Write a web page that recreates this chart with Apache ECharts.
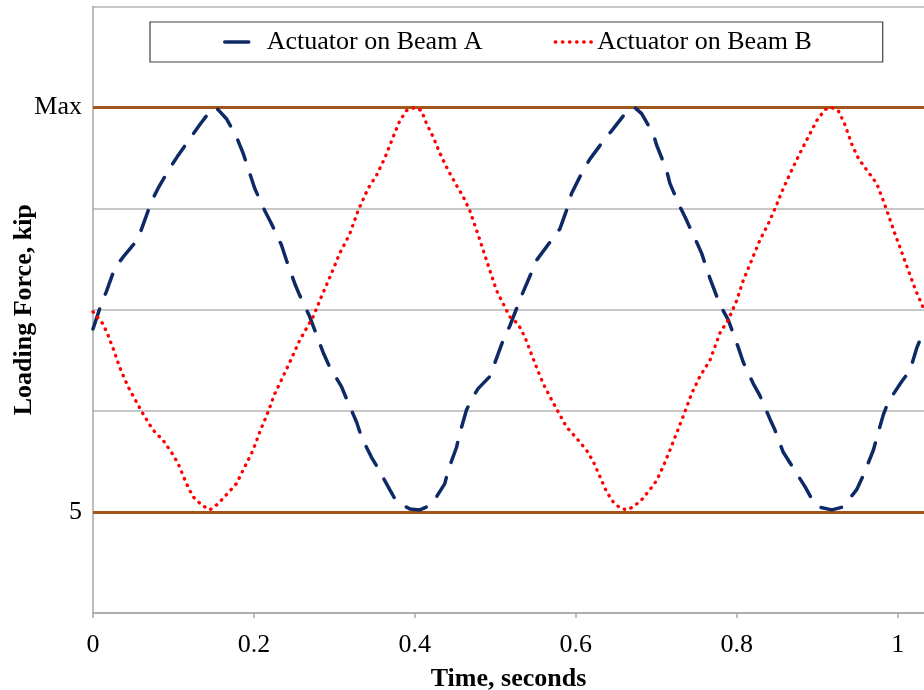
<!DOCTYPE html>
<html>
<head>
<meta charset="utf-8">
<script src="https://cdn.jsdelivr.net/npm/echarts@6/dist/echarts.min.js"></script>
<style>
    html, body { margin: 0; padding: 0; background: #ffffff; }
    #chart { width: 924px; height: 690px; }
</style>
</head>
<body>
<div id="chart"></div>
<script>
    // time, seconds / loading force (0..6 scale, 1 = "5", 5 = "Max")
    var timeA = [0, 0.0104, 0.0166, 0.0270, 0.0373, 0.0559, 0.0622, 0.0726, 0.0808, 0.0954, 0.1044, 0.1202, 0.1326, 0.1451, 0.151, 0.1554,
        0.1658, 0.1783, 0.1865, 0.1948, 0.2010, 0.2135, 0.2218, 0.2342, 0.2404, 0.2507, 0.2570, 0.2694, 0.2859, 0.2943, 0.3088, 0.3150,
        0.3275, 0.3337, 0.3461, 0.3543, 0.3688, 0.3772, 0.3937, 0.4061, 0.4207, 0.4372, 0.4413, 0.4518, 0.4559, 0.4642, 0.4724, 0.4786,
        0.4932, 0.4973, 0.5097, 0.5180, 0.5326, 0.5450, 0.5512, 0.5699, 0.5802, 0.5905, 0.5947, 0.6091, 0.6175, 0.6361, 0.6464, 0.6651,
        0.6734, 0.6818, 0.6962, 0.7004, 0.7128, 0.7169, 0.7294, 0.7356, 0.7501, 0.7563, 0.7667, 0.7791, 0.7894, 0.8018, 0.8081, 0.8205,
        0.8288, 0.8412, 0.8475, 0.8578, 0.8682, 0.8848, 0.8931, 0.9013, 0.9180, 0.9324, 0.9490, 0.9572, 0.9697, 0.9739, 0.9821, 0.9883,
        1.0050, 1.0153, 1.0236, 1.0327];
    var forceA = [2.81, 3.06, 3.18, 3.41, 3.52, 3.70, 3.84, 4.07, 4.20, 4.40, 4.51, 4.69, 4.83, 4.96, 5.0, 4.98,
        4.89, 4.71, 4.55, 4.35, 4.20, 3.98, 3.85, 3.64, 3.49, 3.26, 3.14, 2.93, 2.58, 2.43, 2.24, 2.12,
        1.89, 1.74, 1.54, 1.43, 1.22, 1.10, 1.03, 1.02, 1.07, 1.28, 1.41, 1.64, 1.78, 2.01, 2.14, 2.22,
        2.34, 2.43, 2.70, 2.84, 3.14, 3.37, 3.49, 3.69, 3.80, 4.03, 4.15, 4.38, 4.49, 4.69, 4.79, 4.98,
        5.0, 4.94, 4.74, 4.63, 4.38, 4.25, 4.02, 3.92, 3.67, 3.56, 3.31, 3.05, 2.90, 2.63, 2.48, 2.27,
        2.15, 1.92, 1.81, 1.59, 1.46, 1.25, 1.13, 1.05, 1.02, 1.05, 1.22, 1.36, 1.61, 1.73, 1.96, 2.09,
        2.29, 2.40, 2.62, 2.80];

    var timeB = [0, 0.0124, 0.0186, 0.0249, 0.0332, 0.0435, 0.0559, 0.0622, 0.0746, 0.0870, 0.0975, 0.1057, 0.1161, 0.1243, 0.1348, 0.1451,
        0.1554, 0.1658, 0.1783, 0.1907, 0.1989, 0.2072, 0.2176, 0.2259, 0.2362, 0.2445, 0.2570, 0.2735, 0.2839, 0.2964, 0.3067, 0.3191,
        0.3294, 0.3419, 0.3523, 0.3626, 0.3730, 0.3813, 0.3896, 0.4000, 0.4083, 0.4145, 0.4227, 0.4310, 0.4413, 0.4518, 0.4600, 0.4683,
        0.4766, 0.4848, 0.4932, 0.5015, 0.5097, 0.5180, 0.5283, 0.5367, 0.5429, 0.5512, 0.5594, 0.5699, 0.5802, 0.5885, 0.6009, 0.6134,
        0.6216, 0.6299, 0.6382, 0.6464, 0.6548, 0.6631, 0.6713, 0.6818, 0.6921, 0.7004, 0.7086, 0.7169, 0.7253, 0.7356, 0.7439, 0.7542,
        0.7667, 0.7791, 0.7894, 0.7999, 0.8081, 0.8185, 0.8288, 0.8391, 0.8475, 0.8578, 0.8682, 0.8786, 0.8889, 0.8993, 0.9096, 0.9180,
        0.9262, 0.9345, 0.9428, 0.9510, 0.9635, 0.9739, 0.9821, 0.9883, 0.9966, 1.0050, 1.0132, 1.0215, 1.0327];
    var forceB = [2.98, 2.86, 2.75, 2.62, 2.43, 2.24, 2.06, 1.97, 1.81, 1.71, 1.59, 1.48, 1.28, 1.15, 1.07, 1.02,
        1.08, 1.17, 1.28, 1.48, 1.61, 1.79, 1.99, 2.17, 2.34, 2.48, 2.70, 2.93, 3.13, 3.36, 3.56, 3.75,
        3.98, 4.20, 4.33, 4.50, 4.71, 4.87, 4.97, 5.0, 4.97, 4.84, 4.71, 4.55, 4.38, 4.23, 4.12, 3.98,
        3.79, 3.59, 3.39, 3.19, 3.06, 2.93, 2.86, 2.73, 2.60, 2.43, 2.27, 2.11, 1.96, 1.84, 1.73, 1.61,
        1.50, 1.35, 1.20, 1.10, 1.04, 1.02, 1.05, 1.12, 1.22, 1.31, 1.45, 1.61, 1.78, 1.99, 2.17, 2.34,
        2.50, 2.77, 2.90, 3.09, 3.29, 3.49, 3.69, 3.85, 4.00, 4.20, 4.38, 4.55, 4.71, 4.87, 4.98, 5.0,
        4.97, 4.83, 4.64, 4.50, 4.36, 4.25, 4.08, 3.94, 3.75, 3.57, 3.39, 3.21, 3.00];

    var seriesNames = ['Actuator on Beam A', 'Actuator on Beam B'];
    var yTickValues = [1, 5];
    var yTickNames = ['5', 'Max'];

    function zip(xs, ys) {
        var out = [];
        for (var i = 0; i < xs.length; i++) out.push([xs[i], ys[i]]);
        return out;
    }

    var font = 'Liberation Serif';
    var myChart = echarts.init(document.getElementById('chart'));
    myChart.setOption({
        animation: false,
        textStyle: { fontFamily: font, color: '#000' },
        grid: { left: 93, right: 0, top: 6.5, bottom: 77, containLabel: false, outerBoundsMode: 'none' },
        legend: {
            left: 150,
            top: 22,
            orient: 'horizontal',
            itemWidth: 37,
            itemHeight: 14,
            itemGap: 71,
            padding: [6, 71, 6, 73],
            borderColor: '#404040',
            borderWidth: 1.2,
            itemStyle: { opacity: 0 },
            textStyle: { fontFamily: font, fontSize: 26, color: '#000', lineHeight: 28 },
            data: [
                { name: seriesNames[0], lineStyle: { type: [24, 30], width: 3.5, cap: 'round' } },
                { name: seriesNames[1], lineStyle: { type: [0.5, 6.6], width: 3.3, cap: 'round' } }
            ]
        },
        xAxis: {
            type: 'value',
            min: 0,
            max: 1.0327,
            interval: 0.2,
            name: 'Time, seconds',
            nameLocation: 'middle',
            nameGap: 53,
            nameMoveOverlap: false,
            nameTextStyle: { fontFamily: font, fontSize: 26, fontWeight: 'bold', color: '#000' },
            axisLine: { show: true, lineStyle: { color: '#a6a6a6', width: 1.5 } },
            axisTick: { show: true, length: 5, lineStyle: { color: '#a6a6a6', width: 1.5 } },
            axisLabel: {
                fontFamily: font, fontSize: 26, color: '#000', margin: 19,
                showMaxLabel: false,
                formatter: function (v) {
                    var k = Math.round(v / 0.2);
                    if (Math.abs(v - k * 0.2) > 1e-6) return '';
                    return String(Math.round(k * 2) / 10);
                }
            },
            splitLine: { show: false }
        },
        yAxis: {
            type: 'value',
            min: 0,
            max: 6,
            interval: 1,
            name: 'Loading Force, kip',
            nameLocation: 'middle',
            nameGap: 56,
            nameMoveOverlap: false,
            nameTextStyle: { fontFamily: font, fontSize: 26, fontWeight: 'bold', color: '#000' },
            axisLine: { show: true, lineStyle: { color: '#a6a6a6', width: 1.5 } },
            axisTick: { show: false },
            axisLabel: {
                fontFamily: font, fontSize: 26, color: '#000', margin: 11,
                formatter: function (v) {
                    var i = yTickValues.indexOf(v);
                    return i >= 0 ? yTickNames[i] : '';
                }
            },
            splitLine: { show: true, lineStyle: { color: '#b5b5b5', width: 1.5 } }
        },
        series: [
            {
                name: seriesNames[0],
                type: 'line',
                data: zip(timeA, forceA),
                symbol: 'none',
                showSymbol: false,
                z: 3,
                lineStyle: { color: '#0e2a66', width: 3.5, type: [21, 16], cap: 'round' },
                itemStyle: { color: '#0e2a66' },
                markLine: {
                    silent: true,
                    symbol: 'none',
                    label: { show: false },
                    lineStyle: { color: '#a3561b', width: 3, type: 'solid' },
                    z: 2,
                    data: yTickValues.map(function (v) { return { yAxis: v }; })
                }
            },
            {
                name: seriesNames[1],
                type: 'line',
                data: zip(timeB, forceB),
                symbol: 'none',
                showSymbol: false,
                z: 3,
                lineStyle: { color: '#ff0000', width: 3.3, type: [0.5, 6.6], cap: 'round' },
                itemStyle: { color: '#ff0000' }
            }
        ]
    });
    window.addEventListener('resize', function () {
        myChart.resize();
    });
</script>
</body>
</html>
